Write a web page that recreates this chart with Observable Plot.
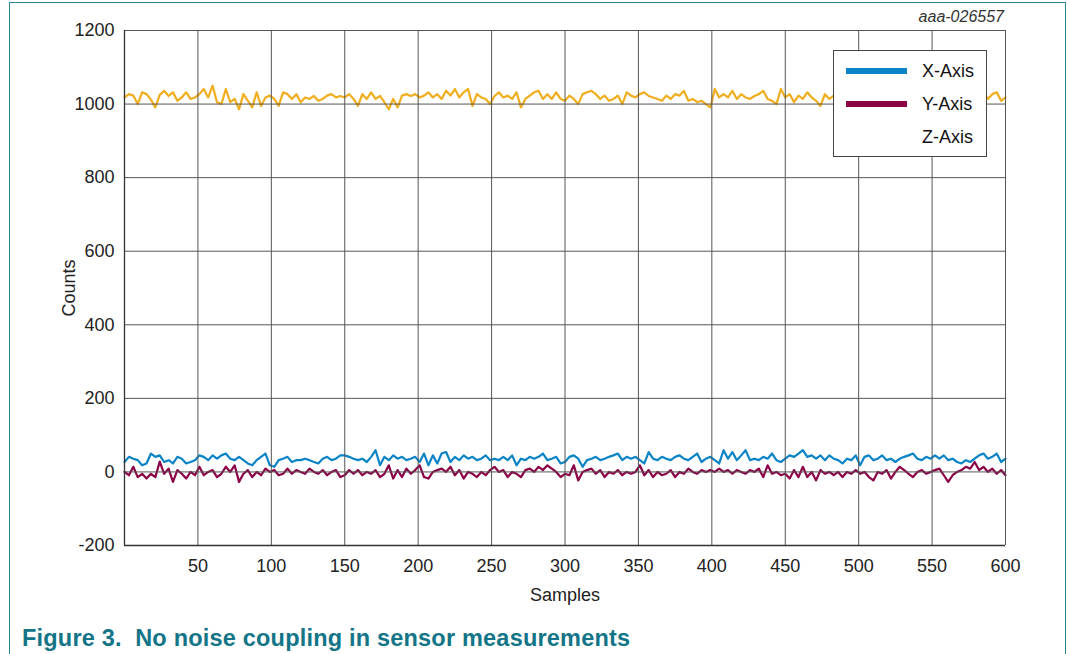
<!DOCTYPE html>
<html><head><meta charset="utf-8">
<script src="https://cdn.jsdelivr.net/npm/d3@7"></script>
<script src="https://cdn.jsdelivr.net/npm/@observablehq/plot@0.6"></script>
<style>
html,body{margin:0;padding:0}
body{width:1068px;height:654px;overflow:hidden;background:#fff;font-family:"Liberation Sans",Arial,sans-serif;position:relative;color:#222}
#border{position:absolute;left:9px;top:2px;width:1057px;height:700px;border:1.5px solid #2b8797;box-sizing:border-box}
#chart{position:absolute;left:0;top:0}
#code{position:absolute;right:64px;top:8px;font-size:16px;font-style:italic;color:#333}
#legend{position:absolute;left:833px;top:50px;width:154px;height:107px;border:1px solid #444;background:#fff;box-sizing:border-box}
.item{position:absolute;left:0;width:154px;height:22px}
.sw{position:absolute;left:12px;top:8px;width:61px;height:6px}
.lab{position:absolute;left:88px;top:0;font-size:18px;line-height:22px;color:#111}
#caption{position:absolute;left:22px;top:625px;font-size:23.5px;letter-spacing:0.2px;font-weight:bold;color:#137587;white-space:pre}
</style></head>
<body>
<div id="border"></div>
<div id="chart"></div>
<div id="code">aaa-026557</div>
<div id="legend"></div>
<div id="caption"></div>
<script>
// ---- data (every 3rd sample) ----
const seriesNames = ["X-Axis", "Y-Axis", "Z-Axis"];
const seriesColors = ["#0a84c6", "#8b0046", "#f0ad1e"];
const xTicks = [50, 100, 150, 200, 250, 300, 350, 400, 450, 500, 550, 600];
const yTicks = [-200, 0, 200, 400, 600, 800, 1000, 1200];
const captionText = "Figure 3.  No noise coupling in sensor measurements";
const xLabel = "Samples";
const yLabel = "Counts";
const samples = d3.range(0, 601, 3);

const xAxisValues = [
  27,41,36,32,18,23,50,41,45,27, 32,23,41,36,23,27,32,45,41,32, 45,36,45,50,36,32,41,32,23,18, 32,41,50,18,14,32,36,41,27,32, 32,36,32,27,23,36,41,32,36,45,
  45,41,36,32,36,27,41,59,18,41, 32,45,36,41,32,36,41,27,50,18, 45,23,50,54,27,41,32,45,36,41, 32,36,45,32,36,32,41,32,45,18, 36,32,41,36,41,50,32,36,41,23,
  27,41,45,36,14,32,36,41,32,36, 41,45,50,32,41,36,41,32,23,54, 36,32,41,36,32,41,45,36,32,41, 50,27,36,41,32,23,59,36,54,32, 45,59,32,36,32,41,36,50,32,27,
  36,45,41,50,59,41,45,36,45,32, 45,36,32,23,36,32,45,18,41,45, 32,36,45,32,36,27,36,41,45,50, 36,32,41,36,45,36,45,32,36,27, 23,32,27,36,45,50,36,41,50,27, 36
];
const yAxisValues = [
  0,-9,14,-14,-5,-18,-5,-14,28,-5, 9,-27,5,-5,-18,0,-9,14,-9,0, 5,-14,-5,14,0,18,-27,-5,5,-14, 0,-9,9,0,5,-9,-5,9,-5,5, 0,-5,9,0,-5,5,-9,0,5,-14,
  -9,5,-5,5,-9,0,-5,5,-14,-5, 18,-18,5,-14,9,-5,5,18,-14,-18, 0,5,9,0,14,-9,5,-18,0,-5, -14,0,-9,5,14,0,5,-14,0,-5, -14,5,9,0,14,5,18,9,0,-14,
  -5,-9,18,-23,0,5,9,-5,5,-14, 0,-5,5,-9,0,-5,0,18,-9,5, -14,0,-9,-5,5,-14,0,-5,9,0, -5,5,0,5,0,9,0,5,-5,5, 0,-5,5,0,9,-14,18,-5,0,-9,
  -5,-18,5,-14,14,-14,0,-23,5,-5, 0,-9,0,-14,0,-5,5,-5,0,-14, -23,0,-5,5,-18,0,14,5,-5,-14, 0,5,-5,0,5,9,-9,-27,-9,0, 5,14,9,27,5,14,0,9,-5,5, -9
];
const zAxisValues = [
  1018,1027,1023,1000,1032,1027,1012,991,1025,1036, 1022,1032,1009,1018,1032,1014,1018,1027,1041,1018, 1050,1005,1000,1041,1005,1014,986,1027,1009,991, 1032,995,1018,1023,1014,995,1032,1027,1014,1027, 1005,1018,1014,1022,1009,1014,1023,1027,1018,1022,
  1018,1027,1014,995,1027,1014,1032,1014,1022,1005, 986,1014,991,1023,1027,1022,1027,1018,1023,1032, 1018,1027,1014,1036,1023,1041,1018,1032,1041,995, 1027,1018,1014,1000,1022,1032,1018,1023,1014,1032, 991,1014,1023,1032,1036,1014,1027,1014,1032,1014,
  1009,1023,1014,1000,1027,1032,1036,1027,1014,1023, 1009,1014,1023,1000,1032,1023,1018,1027,1032,1022, 1018,1014,1009,1023,1014,1027,1023,1036,1009,1014, 1005,1009,1000,991,1041,1018,1027,1018,1036,1014, 1027,1018,1014,1022,1027,1036,1014,1009,1000,1041,
  1018,1027,1005,1023,1014,1032,1018,1009,995,1027, 1014,1023,1018,1027,1009,1023,1032,1014,1018,1005, 1027,1014,1023,1036,1018,1009,1027,1014,1023,1000, 1018,1032,1014,1027,1009,1018,1023,1014,1036,1018, 1005,1027,1018,1014,1023,1032,1014,1027,1032,1009, 1018
];

// ---- build table ----
const rows = (vals) => samples.map((s, i) => ({sample: s, value: vals[i]})).filter(d => d.value !== undefined);
const dx = rows(xAxisValues), dy = rows(yAxisValues), dz = rows(zAxisValues);

const chart = Plot.plot({
  width: 1068,
  height: 612,
  marginLeft: 124,
  marginRight: 63,
  marginTop: 30,
  marginBottom: 67,
  style: {fontFamily: "'Liberation Sans', Arial, sans-serif", fontSize: "18px", color: "#222", background: "transparent", overflow: "visible"},
  x: {domain: [0, 600], ticks: xTicks, tickSize: 0, tickPadding: 14, tickFormat: d => String(d), label: xLabel, labelAnchor: "center", labelOffset: 55, labelArrow: "none"},
  y: {domain: [-200, 1200], ticks: yTicks, tickSize: 0, tickPadding: 10, tickFormat: d => String(d), label: yLabel, labelAnchor: "center", labelOffset: 62, labelArrow: "none"},
  marks: [
    Plot.lineY(dz, {x: "sample", y: "value", stroke: seriesColors[2], strokeWidth: 2.2}),
    Plot.lineY(dx, {x: "sample", y: "value", stroke: seriesColors[0], strokeWidth: 2.2}),
    Plot.lineY(dy, {x: "sample", y: "value", stroke: seriesColors[1], strokeWidth: 2.2}),
    Plot.ruleY(yTicks, {stroke: "#555", strokeWidth: 1}),
    Plot.ruleX(xTicks, {stroke: "#555", strokeWidth: 1}),
    Plot.ruleX([0], {stroke: "#333", strokeWidth: 1.3}),
    Plot.ruleY([-200], {stroke: "#333", strokeWidth: 1.3})
  ]
});
document.getElementById("chart").appendChild(chart);

// legend
const legend = document.getElementById("legend");
seriesNames.forEach((name, i) => {
  const it = document.createElement("div");
  it.className = "item";
  it.style.top = (9 + i * 33) + "px";
  const sw = document.createElement("div");
  sw.className = "sw";
  sw.style.background = i < 2 ? seriesColors[i] : "#fff";
  const lb = document.createElement("div");
  lb.className = "lab";
  lb.textContent = name;
  it.appendChild(sw); it.appendChild(lb);
  legend.appendChild(it);
});
document.getElementById("caption").textContent = captionText;
</script>
</body></html>
